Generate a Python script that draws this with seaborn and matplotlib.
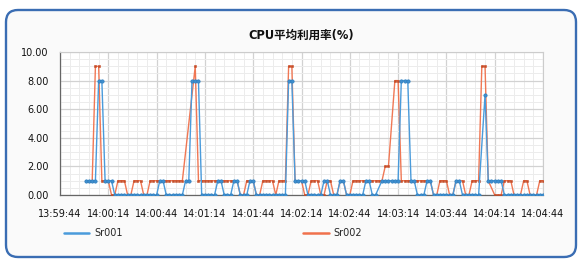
import matplotlib
matplotlib.use("Agg")
import matplotlib.pyplot as plt
import matplotlib.dates as mdates
from matplotlib.patches import FancyBboxPatch
from matplotlib.lines import Line2D
from matplotlib.ticker import MultipleLocator, FormatStrFormatter
from matplotlib.transforms import IdentityTransform
import seaborn as sns
import pandas as pd
import numpy as np

sns.set_style("white")
plt.rcParams['font.family'] = ['DejaVu Sans', 'Noto Sans CJK SC']

title = "CPU平均利用率(%)"
series_names = ["Sr001", "Sr002"]
start_time = "2020-01-01 14:00:00"
sample_step = "2s"
tick_labels = ["13:59:44", "14:00:14", "14:00:44", "14:01:14", "14:01:44", "14:02:14",
               "14:02:44", "14:03:14", "14:03:44", "14:04:14", "14:04:44"]
y_ticks = [0, 2, 4, 6, 8, 10]

N = None
sr001 = [1, 1, 1, 1, 8, 8, 1, 1, 1,
         0, 0, 0, 0, 0, 0, 0, 0, 0, 0, 0, 0, 0, 0,
         1, 1,
         0, 0, 0, 0, 0, 0,
         1, 1,
         8, 8, 8,
         0, 0, 0, 0, 0,
         1, 1,
         0, 0, 0,
         1, 1,
         0, 0, 0,
         1, 1,
         0, 0, 0, 0, 0, 0, 0, 0, 0, 0,
         8, 8,
         1, 1, 1, 1,
         0, 0, 0, 0, 0,
         1, 1,
         0, 0, 0,
         1, 1,
         0, 0, 0, 0, 0, 0,
         1, 1,
         0, 0,
         N,
         1, 1, 1, 1, 1, 1,
         8, 8, 8,
         1, 1,
         0, 0, 0,
         1, 1,
         0, 0, 0, 0, 0, 0, 0,
         1, 1,
         0, 0, 0, 0, 0, 0,
         N,
         7,
         1, 1, 1, 1, 1,
         0, 0, 0, 0, 0, 0, 0, 0, 0, 0, 0, 0, 0]

sr002 = [1, 1, 1, 9, 9, 1, 1, 1,
         0, 0,
         1, 1, 1,
         0, 0,
         1, 1, 1,
         0, 0,
         1, 1, 1, 1, 1, 1, 1, 1, 1, 1, 1,
         N, N, N,
         9,
         1, 1, 1, 1, 1, 1, 1, 1, 1, 1, 1, 1, 1,
         0, 0,
         1, 1, 1,
         0, 0,
         1, 1, 1, 1,
         0,
         1, 1, 1,
         9, 9,
         1, 1, 1,
         0, 0,
         1, 1, 1,
         0, 0,
         1, 1,
         0, 0,
         1, 1,
         0, 0,
         1, 1, 1, 1, 1, 1, 1, 1, 1, 1,
         2, 2,
         N,
         8, 8,
         1, 1, 1, 1, 1, 1, 1, 1, 1, 1,
         0, 0,
         1, 1, 1,
         0, 0,
         1, 1, 1,
         0, 0,
         1, 1, 1,
         9, 9,
         1,
         N,
         0, 0, 0,
         1, 1, 1,
         0, 0, 0,
         1, 1,
         0, 0, 0,
         1, 1]

blue = "#4a9bdb"
orange = "#f0714c"

frames = []
for name, vals in zip(series_names, [sr001, sr002]):
    t = pd.date_range(start=start_time, periods=len(vals), freq=sample_step)
    df = pd.DataFrame({"time": t, "value": pd.array(vals, dtype="Float64"), "series": name})
    frames.append(df.dropna())
data = pd.concat(frames, ignore_index=True)
data["value"] = data["value"].astype(float)

W, H = 579, 260
fig = plt.figure(figsize=(W / 100, H / 100), dpi=100)
fig.patch.set_facecolor("white")

# rounded frame (pixel coordinates)
frame = FancyBboxPatch((6, 3), 570, 247,
                       boxstyle="round,pad=0,rounding_size=12",
                       transform=IdentityTransform(), facecolor="#fafafa",
                       edgecolor="#3a6db3", linewidth=1.7, zorder=-10)
fig.patches.append(frame)

ax = fig.add_axes([60 / W, 1 - 195 / H, (543 - 60) / W, (195 - 52) / H])
ax.set_zorder(2)
ax.set_facecolor("white")

sns.lineplot(data=data[data.series == "Sr002"], x="time", y="value", ax=ax,
             color=orange, linewidth=1.0, marker="s", markersize=1.5,
             markerfacecolor="#c44a25", markeredgecolor="#c44a25", markeredgewidth=0.4,
             legend=False, zorder=3, alpha=0.95)
sns.lineplot(data=data[data.series == "Sr001"], x="time", y="value", ax=ax,
             color=blue, linewidth=1.0, marker="o", markersize=2.4,
             markerfacecolor="#3f8fcf", markeredgecolor="#2f7fc0", markeredgewidth=0.5,
             legend=False, zorder=4)

tick_times = [pd.Timestamp("2020-01-01 " + s) for s in tick_labels]
ax.set_xlim(tick_times[0], tick_times[-1])
ax.set_xticks(tick_times)
ax.set_xticklabels(tick_labels)
ax.xaxis.set_minor_locator(mdates.SecondLocator(bysecond=range(2, 60, 6)))
ax.set_ylim(0, 10)
ax.set_yticks(y_ticks)
ax.yaxis.set_major_formatter(FormatStrFormatter("%.2f"))
ax.yaxis.set_minor_locator(MultipleLocator(0.5))

ax.grid(which="major", color="#d2d2d2", linewidth=0.9)
ax.grid(which="minor", color="#ececec", linewidth=0.7)
ax.set_axisbelow(True)
ax.set_xlabel("")
ax.set_ylabel("")
ax.tick_params(axis="both", which="major", labelsize=7, length=5, width=0.8,
               color="#666666", labelcolor="#111111", direction="out", pad=3)
ax.tick_params(axis="both", which="minor", length=2.5, width=0.6, color="#888888")
ax.tick_params(axis="x", which="major", pad=5)
for s in ["left", "bottom"]:
    ax.spines[s].set_color("#666666")
    ax.spines[s].set_linewidth(0.9)
for s in ["top", "right"]:
    ax.spines[s].set_color("#cccccc")
    ax.spines[s].set_linewidth(0.8)

fig.text(0.52, 1 - 35 / H, title, ha="center", va="center", fontsize=8.3,
         fontweight="bold", family=["DejaVu Sans", "Noto Sans CJK SC"], color="#111111")

handles = [Line2D([], [], color=blue, linewidth=1.8), Line2D([], [], color=orange, linewidth=1.8)]
fig.legend(handles, series_names, loc="center left", bbox_to_anchor=(64 / W, 1 - 233 / H),
           ncol=2, frameon=False, fontsize=7, handlelength=2.6, handletextpad=0.5,
           columnspacing=18.6, borderaxespad=0, borderpad=0)

fig.savefig("out.png", dpi=100, facecolor=fig.get_facecolor())
